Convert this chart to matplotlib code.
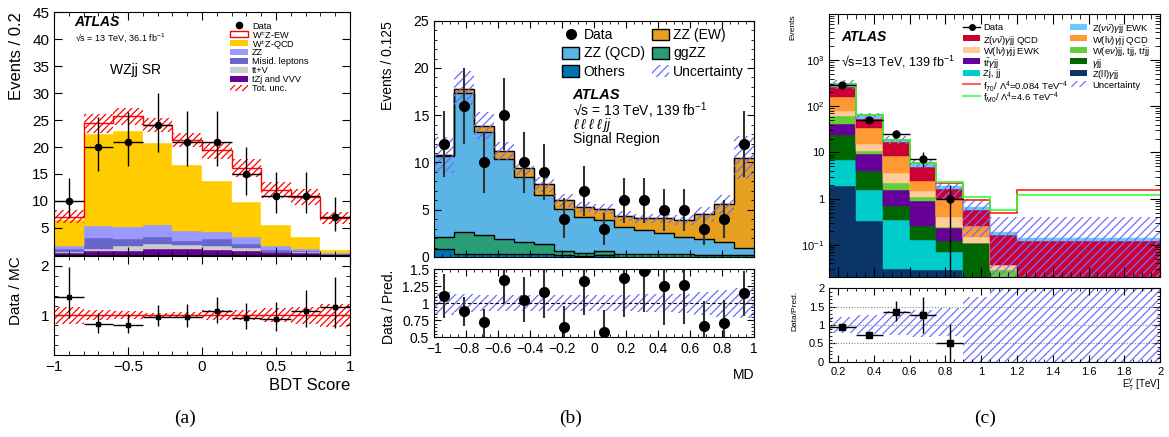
import numpy as np
import matplotlib
matplotlib.use('Agg')
import matplotlib.pyplot as plt
from matplotlib.patches import Patch, Rectangle
from matplotlib.lines import Line2D
from matplotlib.ticker import MultipleLocator, FuncFormatter, FixedLocator, FixedFormatter, LogLocator, NullFormatter

plt.rcParams['font.family'] = ['Liberation Sans', 'DejaVu Sans']
plt.rcParams['mathtext.fontset'] = 'custom'
plt.rcParams['mathtext.rm'] = 'Liberation Sans'
plt.rcParams['mathtext.it'] = 'Liberation Sans:italic'
plt.rcParams['mathtext.bf'] = 'Liberation Sans:bold'
plt.rcParams['hatch.linewidth'] = 0.9

# ------ (a) WZjj SR, BDT score ------------------
a_edges = np.linspace(-1, 1, 11)
a_data = [10, 20, 21, 24, 21, 21, 15, 11, 11, 7]
a_data_lo = [6.8, 15.5, 16.5, 19.0, 16.5, 16.5, 11.2, 7.7, 7.7, 4.5]
a_data_hi = [14.2, 25.5, 26.5, 30.0, 26.7, 26.7, 20.0, 15.4, 15.4, 10.8]
a_tzj = [0.4, 0.7, 0.8, 1.2, 1.1, 1.0, 0.8, 0.5, 0.4, 0.1]
a_ttv = [0.2, 0.5, 0.9, 0.9, 0.7, 0.6, 0.5, 0.1, 0.1, 0.0]
a_misid = [0.5, 2.0, 1.3, 1.2, 0.8, 1.4, 0.7, 0.4, 0.3, 0.1]
a_zz = [0.5, 2.1, 2.1, 2.2, 1.8, 1.2, 1.3, 0.7, 0.3, 0.2]
a_wzqcd = [4.9, 17.2, 17.8, 15.2, 12.3, 9.5, 6.6, 3.9, 2.2, 0.5]
a_wzew = [0.6, 1.9, 2.8, 3.4, 4.6, 5.7, 6.2, 6.5, 7.4, 5.9]
a_unc = [1.2, 1.8, 1.6, 1.3, 1.3, 1.6, 1.6, 1.5, 1.5, 1.1]
a_ratio = [1.38, 0.82, 0.81, 0.97, 0.97, 1.08, 0.95, 0.92, 1.09, 1.17]
a_ratio_lo = [0.95, 0.65, 0.65, 0.78, 0.77, 0.85, 0.72, 0.68, 0.77, 0.75]
a_ratio_hi = [1.97, 1.05, 1.02, 1.21, 1.23, 1.37, 1.25, 1.28, 1.52, 1.77]
a_ratio_unc = [0.17, 0.10, 0.08, 0.05, 0.06, 0.10, 0.10, 0.14, 0.18, 0.24]

# ------ (b) ZZjj signal region, MD ---------------
b_edges = np.linspace(-1, 1, 17)
b_data = [12, 16, 10, 15, 10, 9, 4, 7, 3, 6, 6, 5, 5, 3, 4, 12]
b_data_lo = [8.5, 12.0, 6.8, 11.3, 6.8, 6.0, 2.0, 4.3, 1.3, 3.6, 3.6, 2.8, 2.8, 1.3, 2.0, 8.5]
b_data_hi = [15.5, 20.0, 13.2, 18.9, 13.2, 12.0, 6.2, 9.6, 4.7, 8.4, 8.4, 7.2, 7.2, 4.7, 6.0, 15.5]
b_others = [0.85, 0.3, 0.3, 0.3, 0.3, 0.3, 0.2, 0.15, 0.25, 0.05, 0.05, 0.05, 0.05, 0.05, 0.05, 0.05]
b_ggzz = [1.27, 2.35, 2.0, 1.64, 1.29, 1.11, 0.44, 0.31, 0.39, 0.3, 0.3, 0.23, 0.23, 0.2, 0.18, 0.13]
b_zzqcd = [8.58, 14.65, 10.9, 8.46, 6.91, 5.19, 4.46, 3.74, 3.26, 2.85, 2.55, 2.22, 1.82, 1.65, 1.37, 0.82]
b_zzew = [0.05, 0.5, 0.7, 0.8, 0.9, 1.1, 0.9, 1.1, 1.2, 1.15, 1.2, 1.6, 1.8, 2.6, 4.0, 9.5]
b_unc = [1.9, 1.9, 1.4, 0.95, 0.7, 0.8, 0.7, 0.55, 0.55, 0.5, 0.5, 0.5, 0.55, 0.75, 1.0, 2.3]
b_ratio = [1.11, 0.89, 0.72, 1.34, 1.05, 1.17, 0.65, 1.33, 0.58, 1.37, 1.47, 1.25, 1.27, 0.66, 0.71, 1.15]
b_ratio_lo = [0.79, 0.67, 0.48, 1.0, 0.72, 0.78, 0.45, 0.83, 0.45, 0.8, 0.87, 0.68, 0.7, 0.45, 0.45, 0.82]
b_ratio_hi = [1.43, 1.1, 0.92, 1.6, 1.38, 1.6, 0.96, 1.6, 0.9, 1.6, 1.6, 1.6, 1.6, 1.04, 1.05, 1.47]
b_ratio_unc = [0.17, 0.13, 0.12, 0.12, 0.12, 0.12, 0.12, 0.12, 0.12, 0.12, 0.13, 0.13, 0.14, 0.17, 0.2, 0.22]

# ------ (c) Z(vv)gamma jj, photon ET -------------
c_edges = [0.15, 0.3, 0.45, 0.6, 0.75, 0.9, 1.05, 1.2, 2.0]
c_data = [290, 50, 25, 7.2, 1.0]
c_data_lo = [273, 43, 20.5, 4.8, 0.0]
c_data_hi = [307, 57, 30.4, 10.0, 1.93]
c_zll = [1.84, 0.32, 0.03, 0.028, 0.028, 0, 0, 0]
c_zj = [5.06, 1.18, 0.31, 0.10, 0.042, 0, 0, 0]
c_gjj = [17.1, 2.5, 0.35, 0.13, 0.05, 0.108, 0, 0]
c_ttg = [17, 5.2, 0.87, 0.62, 0.11, 0, 0, 0]
c_wev = [21, 1.6, 0.61, 0.21, 0.01, 0, 0.029, 0]
c_wlv_ewk = [17, 4.8, 1.38, 0.41, 0.16, 0.042, 0.008, 0]
c_wlv_qcd = [82, 19.1, 4.95, 0.97, 0.6, 0.10, 0, 0]
c_zvv_qcd = [99, 17.7, 8.0, 2.3, 0.64, 0.31, 0.123, 0.12]
c_zvv_ewk = [37, 9.4, 2.1, 1.0, 0.21, 0.10, 0.03, 0.02]
c_ft0 = [300, 64, 18.4, 5.9, 2.2, 0.92, 0.49, 1.5]
c_fm0 = [305, 65, 18.8, 6.0, 2.27, 1.08, 0.58, 1.22]
c_unc_lo = [240, 52, 15, 4.6, 1.0, 0.15, 0.001, 0.001]
c_unc_hi = [370, 73, 23, 7.0, 2.3, 1.0, 0.4, 0.4]
c_ratio = [0.94, 0.73, 1.36, 1.28, 0.52]
c_ratio_lo = [0.88, 0.67, 1.1, 0.78, 0.0]
c_ratio_hi = [1.0, 0.79, 1.65, 1.76, 1.02]
c_ratio_unc_lo = [0.78, 0.75, 0.72, 0.68, 0.70, 0.0, 0.0, 0.0]
c_ratio_unc_hi = [1.22, 1.28, 1.38, 1.42, 1.45, 1.77, 2.0, 2.0]


def tick_fmt(v, p):
    return ('%g' % round(v, 6)).replace('-', '\u2212')


def stack(ax, edges, comps, colors, floor=0.0):
    bottom = np.zeros(len(edges) - 1)
    tops = []
    for vals, col in zip(comps, colors):
        top = bottom + np.asarray(vals, float)
        ax.stairs(np.maximum(top, floor), edges, baseline=np.maximum(bottom, floor),
                  fill=True, facecolor=col, edgecolor=col, lw=0.3)
        tops.append(top)
        bottom = top
    return tops


def band(ax, edges, lo, hi, col, hatch):
    ax.stairs(hi, edges, baseline=lo, fill=True, facecolor='none', edgecolor=col,
              hatch=hatch, lw=0)


def style(ax, size, major=6, minor=3):
    ax.tick_params(which='both', direction='in', top=True, right=True, labelsize=size)
    ax.tick_params(which='major', length=major)
    ax.tick_params(which='minor', length=minor)


def key(ax, items, xh, w, h, xt, y0, dy, fs):
    # hand placed legend rows, positions in axes fraction
    for i, (kind, kw, label) in enumerate(items):
        y = y0 - i * dy
        if kind == 'patch':
            ax.add_patch(Rectangle((xh, y - h / 2), w, h, transform=ax.transAxes,
                                   clip_on=False, **kw))
        elif kind == 'line':
            ax.plot([xh, xh + w], [y, y], transform=ax.transAxes, clip_on=False, **kw)
        else:
            ax.plot([xh + w / 2], [y], 'o', transform=ax.transAxes, clip_on=False, **kw)
        ax.text(xt, y, label, transform=ax.transAxes, fontsize=fs, va='center_baseline')


fig = plt.figure(figsize=(11.69, 4.37), dpi=100)

# ================= (a) =================
axa = fig.add_axes([0.0462, 0.4165, 0.2532, 0.556])
axar = fig.add_axes([0.0462, 0.1876, 0.2532, 0.2265])
ca = a_edges[:-1] + 0.1
a_cols = ['#660099', '#cccccc', '#6666cc', '#9999ff', '#ffcc00', 'white']
tops = stack(axa, a_edges, [a_tzj, a_ttv, a_misid, a_zz, a_wzqcd, a_wzew], a_cols)
a_total = tops[-1]
band(axa, a_edges, a_total - np.array(a_unc), a_total + np.array(a_unc), 'red', '/////')
axa.stairs(a_total, a_edges, baseline=None, color='red', lw=1.0)
axa.errorbar(ca, a_data, yerr=[np.array(a_data) - a_data_lo, np.array(a_data_hi) - a_data],
             xerr=0.1, fmt='o', color='k', ms=4.5, elinewidth=1.0, capsize=0)
axa.set_xlim(-1, 1)
axa.set_ylim(0, 45)
axa.yaxis.set_major_locator(FixedLocator([5, 10, 15, 20, 25, 30, 35, 40, 45]))
axa.xaxis.set_major_locator(MultipleLocator(0.5))
axa.xaxis.set_minor_locator(MultipleLocator(0.1))
axa.tick_params(labelbottom=False)
style(axa, 11)
axa.set_ylabel('Events / 0.2', fontsize=12, loc='top')
axa.yaxis.set_label_coords(-0.10, 1.0)
axa.text(0.068, 0.959, 'ATLAS', transform=axa.transAxes, fontsize=10, weight='bold',
         style='italic', va='center')
axa.text(0.07, 0.893, '\u221as = 13 TeV, 36.1 fb$^{-1}$', transform=axa.transAxes,
         fontsize=6.5, va='center')
axa.text(0.19, 0.761, 'WZjj SR', transform=axa.transAxes, fontsize=10, va='center')
a_items = [('marker', dict(color='k', ms=4.5), 'Data'),
           ('patch', dict(facecolor='white', edgecolor='red', lw=1.0), r'W$^{\pm}$Z-EW'),
           ('patch', dict(facecolor=a_cols[4], lw=0), r'W$^{\pm}$Z-QCD'),
           ('patch', dict(facecolor=a_cols[3], lw=0), 'ZZ'),
           ('patch', dict(facecolor=a_cols[2], lw=0), 'Misid. leptons'),
           ('patch', dict(facecolor=a_cols[1], lw=0), 'tt+V'),
           ('patch', dict(facecolor=a_cols[0], lw=0), 'tZj and VVV'),
           ('patch', dict(facecolor='none', edgecolor='red', hatch='/////', lw=0), 'Tot. unc.')]
key(axa, a_items, 0.595, 0.061, 0.026, 0.669, 0.9465, 0.037, 6.6)

axar.axhline(1, color='red', lw=1.0)
band(axar, a_edges, 1 - np.array(a_ratio_unc), 1 + np.array(a_ratio_unc), 'red', '/////')
axar.errorbar(ca, a_ratio, yerr=[np.array(a_ratio) - a_ratio_lo, np.array(a_ratio_hi) - a_ratio],
              xerr=0.1, fmt='s', color='k', ms=3.5, elinewidth=1.0, capsize=0)
axar.set_xlim(-1, 1)
axar.set_ylim(0.2, 2.2)
axar.yaxis.set_major_locator(FixedLocator([1, 2]))
axar.yaxis.set_minor_locator(MultipleLocator(0.2))
axar.xaxis.set_major_locator(MultipleLocator(0.5))
axar.xaxis.set_minor_locator(MultipleLocator(0.1))
axar.xaxis.set_major_formatter(FuncFormatter(tick_fmt))
axar.yaxis.set_major_formatter(FuncFormatter(tick_fmt))
style(axar, 11)
axar.set_ylabel('Data / MC', fontsize=11, loc='top')
axar.yaxis.set_label_coords(-0.105, 1.0)
axar.set_xlabel('BDT Score', fontsize=12, loc='right')
axar.xaxis.set_label_coords(1.0, -0.232)

# ================= (b) =================
axb = fig.add_axes([0.3713, 0.4119, 0.2737, 0.5407])
axbr = fig.add_axes([0.3713, 0.2281, 0.2737, 0.1556])
cb = b_edges[:-1] + 0.0625
b_cols = ['#0072b2', '#2a9d74', '#5ab4e5', '#e69f1e']
tops = stack(axb, b_edges, [b_others, b_ggzz, b_zzqcd, b_zzew], b_cols)
for t in tops:
    axb.stairs(t, b_edges, baseline=None, color='k', lw=1.0)
b_total = tops[-1]
band(axb, b_edges, b_total - np.array(b_unc), b_total + np.array(b_unc), '#6b6bf5', '////')
axb.errorbar(cb, b_data, yerr=[np.array(b_data) - b_data_lo, np.array(b_data_hi) - b_data],
             fmt='o', color='k', ecolor='#333333', ms=7, elinewidth=1.5, capsize=0)
axb.set_xlim(-1, 1)
axb.set_ylim(0, 25)
axb.yaxis.set_major_locator(MultipleLocator(5))
axb.yaxis.set_minor_locator(MultipleLocator(1))
axb.xaxis.set_major_locator(MultipleLocator(0.2))
axb.xaxis.set_minor_locator(MultipleLocator(0.05))
axb.tick_params(labelbottom=False)
style(axb, 10, 5, 2.5)
axb.set_ylabel('Events / 0.125', fontsize=10, loc='top')
axb.yaxis.set_label_coords(-0.122, 1.0)
axb.text(0.433, 0.684, 'ATLAS', transform=axb.transAxes, fontsize=10.5, weight='bold',
         style='italic', va='center')
axb.text(0.433, 0.620, '\u221as = 13 TeV, 139 fb$^{-1}$', transform=axb.transAxes,
         fontsize=10, va='center')
axb.text(0.433, 0.558, r'$\ell\;\ell\;\ell\;\ell\;jj$', transform=axb.transAxes, fontsize=10,
         va='center')
axb.text(0.433, 0.499, 'Signal Region', transform=axb.transAxes, fontsize=10, va='center')
b_handles = [Line2D([], [], marker='o', color='k', ls='none', ms=7),
             Patch(facecolor=b_cols[2], edgecolor='k', lw=1),
             Patch(facecolor=b_cols[0], edgecolor='k', lw=1),
             Patch(facecolor=b_cols[3], edgecolor='k', lw=1),
             Patch(facecolor=b_cols[1], edgecolor='k', lw=1),
             Patch(facecolor='none', edgecolor='#6b6bf5', hatch='////', lw=0)]
b_labels = ['Data', 'ZZ (QCD)', 'Others', 'ZZ (EW)', 'ggZZ', 'Uncertainty']
axb.legend(b_handles, b_labels, ncol=2, loc='upper left', bbox_to_anchor=(0.40, 0.968),
           frameon=False, fontsize=10, handlelength=1.25, handleheight=0.95,
           labelspacing=0.3, handletextpad=0.3, columnspacing=0.5, borderpad=0,
           borderaxespad=0)

band(axbr, b_edges, 1 - np.array(b_ratio_unc), 1 + np.array(b_ratio_unc), '#6b6bf5', '////')
axbr.axhline(1, color='k', lw=0.8, ls=(0, (3, 2)))
axbr.errorbar(cb, b_ratio, yerr=[np.array(b_ratio) - b_ratio_lo, np.array(b_ratio_hi) - b_ratio],
              fmt='o', color='k', ecolor='#333333', ms=7, elinewidth=1.5, capsize=0)
axbr.set_xlim(-1, 1)
axbr.set_ylim(0.5, 1.5)
axbr.yaxis.set_major_locator(MultipleLocator(0.25))
axbr.yaxis.set_minor_locator(MultipleLocator(0.05))
axbr.xaxis.set_major_locator(MultipleLocator(0.2))
axbr.xaxis.set_minor_locator(MultipleLocator(0.05))
axbr.xaxis.set_major_formatter(FuncFormatter(tick_fmt))
axbr.yaxis.set_major_formatter(FuncFormatter(tick_fmt))
style(axbr, 10, 5, 2.5)
axbr.set_ylabel('Data / Pred.', fontsize=10, loc='top')
axbr.yaxis.set_label_coords(-0.119, 1.0)
axbr.set_xlabel('MD', fontsize=10, loc='right')
axbr.xaxis.set_label_coords(1.0, -0.45)

# ================= (c) =================
axc = fig.add_axes([0.7092, 0.3661, 0.2832, 0.6018])
axcr = fig.add_axes([0.7092, 0.1723, 0.2832, 0.168])
c_edges = np.array(c_edges)
cc = 0.5 * (c_edges[:-1] + c_edges[1:])
c_cols = ['#0a3566', '#00cccc', '#006600', '#660099', '#66cc33', '#ffcc99', '#ff9933',
          '#cc0033', '#66ccff']
tops = stack(axc, c_edges, [c_zll, c_zj, c_gjj, c_ttg, c_wev, c_wlv_ewk, c_wlv_qcd,
                            c_zvv_qcd, c_zvv_ewk], c_cols, floor=1e-4)
band(axc, c_edges, c_unc_lo, c_unc_hi, '#7070ff', '////')
axc.stairs(c_ft0, c_edges, baseline=None, color='#ff2020', lw=1.2)
axc.stairs(c_fm0, c_edges, baseline=None, color='#33ff33', lw=1.2)
nd = len(c_data)
axc.errorbar(cc[:nd], c_data, yerr=[np.array(c_data) - np.array(c_data_lo) * 0.999 - 1e-9,
                                    np.array(c_data_hi) - c_data],
             xerr=0.075, fmt='o', color='k', ms=5, elinewidth=1.0, capsize=0)
axc.set_yscale('log')
axc.set_xlim(0.15, 2.0)
axc.set_ylim(0.02, 1e4)
axc.yaxis.set_major_locator(FixedLocator([0.1, 1, 10, 100, 1000]))
axc.yaxis.set_major_formatter(FixedFormatter([r'$10^{-1}$', '1', '10', r'$10^{2}$', r'$10^{3}$']))
axc.yaxis.set_minor_locator(LogLocator(base=10, subs=np.arange(2, 10)))
axc.yaxis.set_minor_formatter(NullFormatter())
axc.xaxis.set_major_locator(MultipleLocator(0.2))
axc.xaxis.set_minor_locator(MultipleLocator(0.05))
axc.tick_params(labelbottom=False)
style(axc, 8, 7, 3.5)
axc.set_ylabel('Events', fontsize=6, loc='top')
axc.yaxis.set_label_coords(-0.098, 1.0)
axc.text(0.038, 0.913, 'ATLAS', transform=axc.transAxes, fontsize=10, weight='bold',
         style='italic', va='center')
axc.text(0.035, 0.817, '\u221as=13 TeV, 139 fb$^{-1}$', transform=axc.transAxes,
         fontsize=9, va='center')
c_left = [('marker', dict(color='k', ms=4), 'Data'),
          ('patch', dict(facecolor=c_cols[7], lw=0), r'Z($\nu\bar{\nu}$)$\gamma$jj QCD'),
          ('patch', dict(facecolor=c_cols[5], lw=0), r'W(l$\nu$)$\gamma$jj EWK'),
          ('patch', dict(facecolor=c_cols[3], lw=0), r't$\bar{t}\gamma$jj'),
          ('patch', dict(facecolor=c_cols[1], lw=0), 'Zj, jj'),
          ('line', dict(color='#ff6060', lw=1.5), r'f$_{T0}$/ $\Lambda^{4}$=0.084 TeV$^{-4}$'),
          ('line', dict(color='#66ff66', lw=1.5), r'f$_{M0}$/ $\Lambda^{4}$=4.6 TeV$^{-4}$')]
c_right = [('patch', dict(facecolor=c_cols[8], lw=0), r'Z($\nu\bar{\nu}$)$\gamma$jj EWK'),
           ('patch', dict(facecolor=c_cols[6], lw=0), r'W(l$\nu$)$\gamma$jj QCD'),
           ('patch', dict(facecolor=c_cols[4], lw=0), r'W(e$\nu$)jj, tjj, t$\bar{t}$jj'),
           ('patch', dict(facecolor=c_cols[2], lw=0), r'$\gamma$jj'),
           ('patch', dict(facecolor=c_cols[0], lw=0), r'Z(ll)$\gamma$jj'),
           ('patch', dict(facecolor='none', edgecolor='#7070ff', hatch='////', lw=0), 'Uncertainty')]
key(axc, c_left, 0.405, 0.0514, 0.024, 0.465, 0.9517, 0.0437, 6.8)
key(axc, c_right, 0.728, 0.0514, 0.024, 0.794, 0.9517, 0.0437, 6.8)
# data handle in (c) also shows the error bar line
axc.plot([0.405, 0.4564], [0.9517, 0.9517], color='k', lw=1, transform=axc.transAxes)

band(axcr, c_edges, c_ratio_unc_lo, c_ratio_unc_hi, '#7070ff', '////')
for yv in [0.5, 1.0, 1.5]:
    axcr.axhline(yv, color='#888888', lw=0.8, ls=(0, (1, 1.5)))
axcr.errorbar(cc[:nd], c_ratio, yerr=[np.array(c_ratio) - c_ratio_lo, np.array(c_ratio_hi) - c_ratio],
              xerr=0.075, fmt='s', color='k', ms=4.5, elinewidth=1.0, capsize=0)
axcr.set_xlim(0.15, 2.0)
axcr.set_ylim(0, 2)
axcr.yaxis.set_major_locator(MultipleLocator(0.5))
axcr.yaxis.set_minor_locator(MultipleLocator(0.1))
axcr.xaxis.set_major_locator(MultipleLocator(0.2))
axcr.xaxis.set_minor_locator(MultipleLocator(0.05))
axcr.xaxis.set_major_formatter(FuncFormatter(tick_fmt))
axcr.yaxis.set_major_formatter(FuncFormatter(tick_fmt))
style(axcr, 8, 5, 2.5)
axcr.set_ylabel('Data/Pred.', fontsize=6, loc='top')
axcr.yaxis.set_label_coords(-0.094, 0.97)
axcr.set_xlabel(r'E$_{\mathrm{T}}^{\gamma}$ [TeV]', fontsize=7, loc='right')
axcr.xaxis.set_label_coords(1.0, -0.204)

for lab, xf in [('(a)', 0.158), ('(b)', 0.488), ('(c)', 0.843)]:
    fig.text(xf, 0.0435, lab, ha='center', va='center', family='Liberation Serif', fontsize=14)

fig.savefig('out.png', dpi=100)
